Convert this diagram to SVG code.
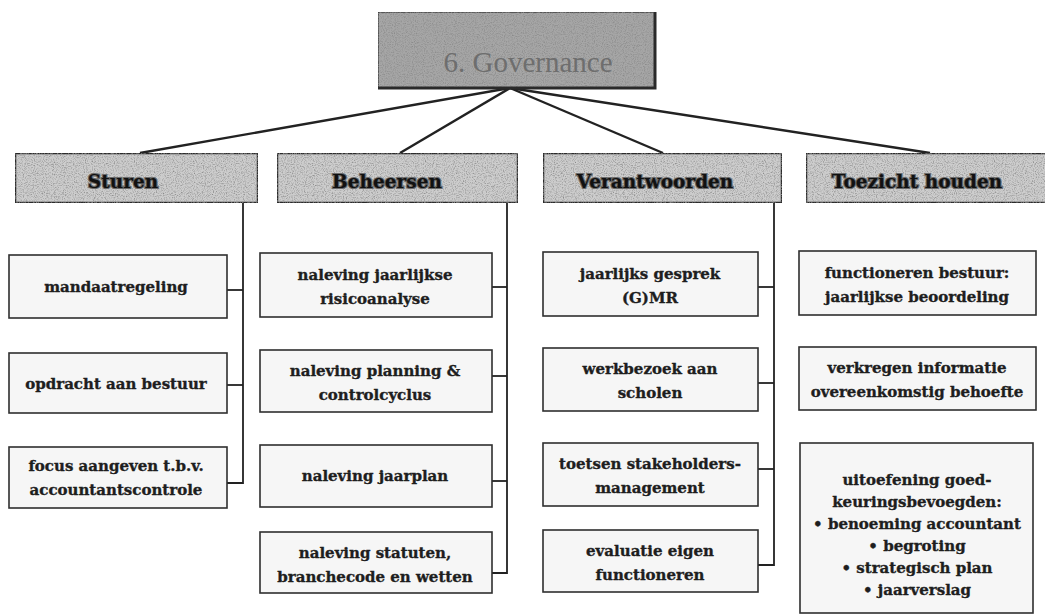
<svg xmlns="http://www.w3.org/2000/svg" width="1045" height="615" viewBox="0 0 1045 615">
  <defs>
    <!-- speckled grey texture for the category headers -->
    <filter id="grain" x="0" y="0" width="100%" height="100%">
      <feTurbulence type="fractalNoise" baseFrequency="0.9" numOctaves="2" seed="7" result="noise"/>
      <feColorMatrix in="noise" type="matrix" values="0 0 0 0 0.25  0 0 0 0 0.25  0 0 0 0 0.25  0 0 0 -2.2 1.25" result="dots"/>
      <feComposite in="dots" in2="SourceGraphic" operator="in" result="clipped"/>
      <feMerge>
        <feMergeNode in="SourceGraphic"/>
        <feMergeNode in="clipped"/>
      </feMerge>
    </filter>
    <style>
      .root { fill: #a6a6a6; stroke: #3a3a3a; stroke-width: 1.5; }
      .root-shadow { fill: none; stroke: #2a2a2a; stroke-width: 3; }
      .root-text { font-family: "Liberation Serif", "Times New Roman", serif; font-size: 29px; fill: #6e6e6e; text-anchor: middle; }
      .head { fill: #cdcdcd; stroke: #2b2b2b; stroke-width: 2.5; }
      .head-text { font-family: "DejaVu Serif", "Liberation Serif", serif; font-weight: bold; font-size: 18.5px; fill: #111; stroke: #6a6a6a; stroke-width: 2.2; paint-order: stroke; text-anchor: middle; }
      .item { fill: #f6f6f6; stroke: #2f2f2f; stroke-width: 1.6; }
      .item-text { font-family: "DejaVu Serif", "Liberation Serif", serif; font-weight: bold; font-size: 15px; fill: #1e1e1e; stroke: #1e1e1e; stroke-width: 0.35; text-anchor: middle; }
      .link { fill: none; stroke: #222; stroke-width: 1.8; }
      .spoke { fill: none; stroke: #222; stroke-width: 2.4; }
    </style>
  </defs>

  <rect width="1045" height="615" fill="#ffffff"/>

  <!-- connectors -->
  <g id="connectors">
    <line class="spoke" x1="510" y1="88" x2="140" y2="153"/>
    <line class="spoke" x1="510" y1="88" x2="400" y2="153"/>
    <line class="spoke" x1="510" y1="88" x2="663" y2="153"/>
    <line class="spoke" x1="510" y1="88" x2="930" y2="153"/>

    <!-- Sturen branch -->
    <polyline class="link" points="243,203 243,483 227,483"/>
    <line class="link" x1="227" y1="290" x2="243" y2="290"/>
    <line class="link" x1="227" y1="385" x2="243" y2="385"/>

    <!-- Beheersen branch -->
    <polyline class="link" points="507,203 507,573 492,573"/>
    <line class="link" x1="492" y1="287" x2="507" y2="287"/>
    <line class="link" x1="492" y1="376" x2="507" y2="376"/>
    <line class="link" x1="492" y1="481" x2="507" y2="481"/>

    <!-- Verantwoorden branch -->
    <polyline class="link" points="774,203 774,565 758,565"/>
    <line class="link" x1="758" y1="287" x2="774" y2="287"/>
    <line class="link" x1="758" y1="383" x2="774" y2="383"/>
    <line class="link" x1="758" y1="469" x2="774" y2="469"/>
  </g>

  <!-- root -->
  <g id="governance">
    <rect class="root" x="378" y="12" width="277" height="76" filter="url(#grain)"/>
    <polyline class="root-shadow" points="378,88 655,88 655,12"/>
    <text class="root-text" x="528" y="72">6. Governance</text>
  </g>

  <!-- category headers -->
  <g id="sturen">
    <rect class="head" x="15" y="153" width="243" height="50" filter="url(#grain)"/>
    <text class="head-text" x="123" y="188">Sturen</text>
  </g>
  <g id="beheersen">
    <rect class="head" x="277" y="153" width="241" height="50" filter="url(#grain)"/>
    <text class="head-text" x="387" y="188">Beheersen</text>
  </g>
  <g id="verantwoorden">
    <rect class="head" x="543" y="153" width="239" height="50" filter="url(#grain)"/>
    <text class="head-text" x="655" y="188">Verantwoorden</text>
  </g>
  <g id="toezicht-houden">
    <rect class="head" x="806" y="153" width="250" height="50" filter="url(#grain)"/>
    <text class="head-text" x="917" y="188">Toezicht houden</text>
  </g>

  <!-- Sturen items -->
  <g id="mandaatregeling">
    <rect class="item" x="9" y="255" width="218" height="63"/>
    <text class="item-text" x="116" y="292">mandaatregeling</text>
  </g>
  <g id="opdracht-aan-bestuur">
    <rect class="item" x="9" y="353" width="218" height="60"/>
    <text class="item-text" x="116" y="389">opdracht aan bestuur</text>
  </g>
  <g id="focus-accountantscontrole">
    <rect class="item" x="9" y="447" width="218" height="61"/>
    <text class="item-text" x="116" y="471">focus aangeven t.b.v.</text>
    <text class="item-text" x="116" y="495">accountantscontrole</text>
  </g>

  <!-- Beheersen items -->
  <g id="naleving-risicoanalyse">
    <rect class="item" x="260" y="253" width="232" height="64"/>
    <text class="item-text" x="375" y="280">naleving jaarlijkse</text>
    <text class="item-text" x="375" y="304">risicoanalyse</text>
  </g>
  <g id="naleving-planning">
    <rect class="item" x="260" y="350" width="232" height="62"/>
    <text class="item-text" x="375" y="376">naleving planning &amp;</text>
    <text class="item-text" x="375" y="400">controlcyclus</text>
  </g>
  <g id="naleving-jaarplan">
    <rect class="item" x="260" y="445" width="232" height="62"/>
    <text class="item-text" x="375" y="481">naleving jaarplan</text>
  </g>
  <g id="naleving-statuten">
    <rect class="item" x="260" y="532" width="232" height="61"/>
    <text class="item-text" x="375" y="558">naleving statuten,</text>
    <text class="item-text" x="375" y="582">branchecode en wetten</text>
  </g>

  <!-- Verantwoorden items -->
  <g id="jaarlijks-gesprek">
    <rect class="item" x="543" y="252" width="215" height="64"/>
    <text class="item-text" x="650" y="279">jaarlijks gesprek</text>
    <text class="item-text" x="650" y="303">(G)MR</text>
  </g>
  <g id="werkbezoek">
    <rect class="item" x="543" y="348" width="215" height="63"/>
    <text class="item-text" x="650" y="374">werkbezoek aan</text>
    <text class="item-text" x="650" y="398">scholen</text>
  </g>
  <g id="stakeholdersmanagement">
    <rect class="item" x="543" y="443" width="215" height="63"/>
    <text class="item-text" x="650" y="469">toetsen stakeholders-</text>
    <text class="item-text" x="650" y="493">management</text>
  </g>
  <g id="evaluatie">
    <rect class="item" x="543" y="530" width="215" height="62"/>
    <text class="item-text" x="650" y="556">evaluatie eigen</text>
    <text class="item-text" x="650" y="580">functioneren</text>
  </g>

  <!-- Toezicht houden items -->
  <g id="functioneren-bestuur">
    <rect class="item" x="799" y="251" width="237" height="64"/>
    <text class="item-text" x="917" y="278">functioneren bestuur:</text>
    <text class="item-text" x="917" y="302">jaarlijkse beoordeling</text>
  </g>
  <g id="verkregen-informatie">
    <rect class="item" x="799" y="347" width="237" height="63"/>
    <text class="item-text" x="917" y="373">verkregen informatie</text>
    <text class="item-text" x="917" y="397">overeenkomstig behoefte</text>
  </g>
  <g id="goedkeuringsbevoegden">
    <rect class="item" x="800" y="443" width="233" height="170"/>
    <text class="item-text" x="917" y="485">uitoefening goed-</text>
    <text class="item-text" x="917" y="507">keuringsbevoegden:</text>
    <text class="item-text" x="917" y="529">• benoeming accountant</text>
    <text class="item-text" x="917" y="551">• begroting</text>
    <text class="item-text" x="917" y="573">• strategisch plan</text>
    <text class="item-text" x="917" y="595">• jaarverslag</text>
  </g>
</svg>
